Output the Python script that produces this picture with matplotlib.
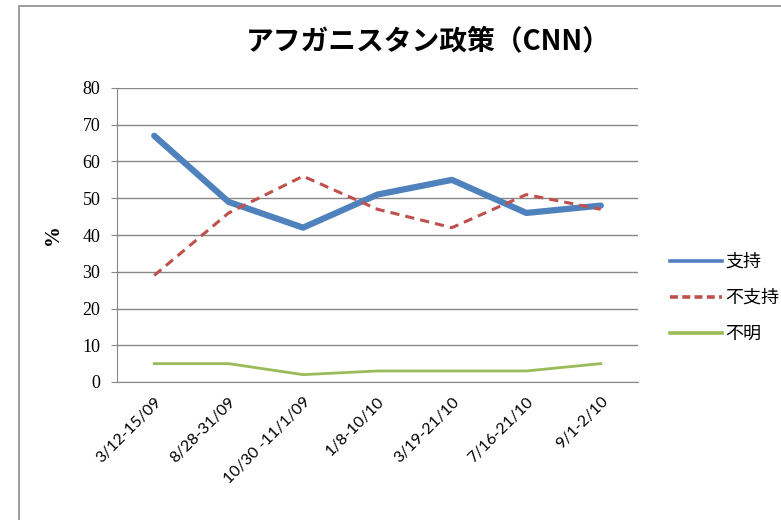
import matplotlib.pyplot as plt
from matplotlib.patches import Rectangle
from matplotlib.lines import Line2D

plt.rcParams['font.family'] = ['Noto Sans CJK JP', 'DejaVu Sans']

dates = ['3/12-15/09', '8/28-31/09', '10/30 -11/1/09', '1/8-10/10',
         '3/19-21/10', '7/16-21/10', '9/1-2/10']
support = [67, 49, 42, 51, 55, 46, 48]
oppose = [29, 46, 56, 47, 42, 51, 47]
unsure = [5, 5, 2, 3, 3, 3, 5]

fig = plt.figure(figsize=(7.81, 5.2), dpi=100)
# chart frame (runs off the right and bottom edges)
fig.patches.append(Rectangle((19 / 781, -0.05), 1.0, 1 - 6 / 520 + 0.05,
                             transform=fig.transFigure, fill=False,
                             edgecolor='#8c8c8c', linewidth=1.2))

ax = fig.add_axes([117 / 781, 1 - 382 / 520, 521 / 781, 294 / 520])
x = range(len(dates))
ax.plot(x, support, color='#4F81BD', linewidth=4.5, solid_capstyle='round')
ax.plot(x, oppose, color='#C0504D', linewidth=2.2, linestyle=(0, (3, 2)))
ax.plot(x, unsure, color='#9BBB59', linewidth=2.0)

ax.set_xlim(-0.5, len(dates) - 0.5)
ax.set_ylim(0, 80)
ax.set_yticks(range(0, 81, 10))
ax.set_yticklabels([str(v) for v in range(0, 81, 10)],
                   family='Liberation Serif', fontsize=13)
ax.set_xticks(list(x))
ax.set_xticklabels(dates, rotation=45, ha='right', rotation_mode='anchor',
                   family='Lato', fontsize=11.5)
ax.tick_params(axis='x', length=0, pad=9)
ax.tick_params(axis='y', length=4, color='#878787', pad=8)
ax.grid(axis='y', color='#878787', linewidth=1)
ax.set_axisbelow(True)
for side in ['top', 'right']:
    ax.spines[side].set_visible(False)
ax.spines['left'].set_color('#878787')
ax.spines['bottom'].set_color('#878787')

ax.set_ylabel('%', family='Liberation Serif', fontsize=15, fontweight='bold',
              labelpad=14)

fig.text(428 / 781, 1 - 42 / 520, 'アフガニスタン政策（CNN）', ha='center',
         va='center', fontsize=20, fontweight='bold')

# legend keys are drawn thinner than the series lines
handles = [Line2D([], [], color='#4F81BD', linewidth=2.6),
           Line2D([], [], color='#C0504D', linewidth=2.6, linestyle=(0, (2.2, 1.2))),
           Line2D([], [], color='#9BBB59', linewidth=2.6)]
ax.legend(handles, ['支持', '不支持', '不明'], loc='center left',
          bbox_to_anchor=(1.03, (382 - 298) / 294), frameon=False,
          fontsize=13, handlelength=2.9, handletextpad=0.15, labelspacing=1.0)

fig.savefig('out.png', dpi=100)
